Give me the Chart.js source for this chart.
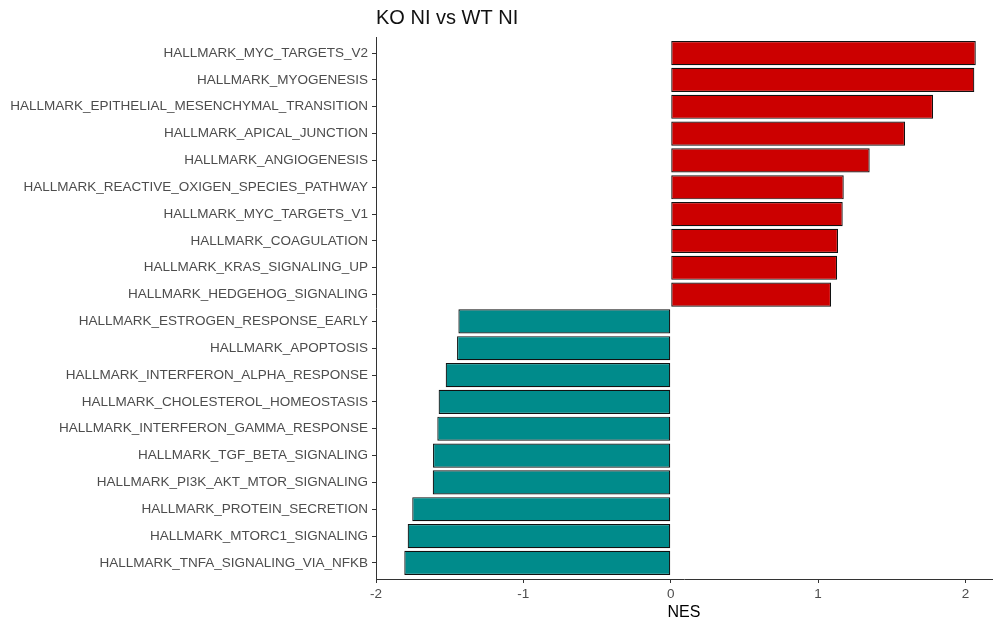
<!DOCTYPE html>
<html>
<head>
<meta charset="utf-8">
<script src="https://cdn.jsdelivr.net/npm/chart.js@4/dist/chart.umd.min.js"></script>
<style>
html,body{margin:0;padding:0;background:#fff;}
#wrap{width:993px;height:622px;position:relative;}
</style>
</head>
<body>
<div id="wrap"><canvas id="c" width="993" height="622"></canvas></div>
<script>
const chartTitle = "KO NI vs WT NI";
const xAxisTitle = "NES";
const categories = [
  "HALLMARK_MYC_TARGETS_V2",
  "HALLMARK_MYOGENESIS",
  "HALLMARK_EPITHELIAL_MESENCHYMAL_TRANSITION",
  "HALLMARK_APICAL_JUNCTION",
  "HALLMARK_ANGIOGENESIS",
  "HALLMARK_REACTIVE_OXIGEN_SPECIES_PATHWAY",
  "HALLMARK_MYC_TARGETS_V1",
  "HALLMARK_COAGULATION",
  "HALLMARK_KRAS_SIGNALING_UP",
  "HALLMARK_HEDGEHOG_SIGNALING",
  "HALLMARK_ESTROGEN_RESPONSE_EARLY",
  "HALLMARK_APOPTOSIS",
  "HALLMARK_INTERFERON_ALPHA_RESPONSE",
  "HALLMARK_CHOLESTEROL_HOMEOSTASIS",
  "HALLMARK_INTERFERON_GAMMA_RESPONSE",
  "HALLMARK_TGF_BETA_SIGNALING",
  "HALLMARK_PI3K_AKT_MTOR_SIGNALING",
  "HALLMARK_PROTEIN_SECRETION",
  "HALLMARK_MTORC1_SIGNALING",
  "HALLMARK_TNFA_SIGNALING_VIA_NFKB"
];
const nesValues = [
  2.07, 2.06, 1.78, 1.59, 1.35, 1.174, 1.167, 1.135, 1.129, 1.088,
  -1.441, -1.450, -1.527, -1.575, -1.584, -1.613, -1.615, -1.754, -1.785, -1.808
];
const xTicks = [-2, -1, 0, 1, 2];
const upColor = "#CC0000";
const downColor = "#008B8B";

const points = categories.map((c, i) => ({ x: nesValues[i], y: i }));

const titlePlugin = {
  id: 'leftTitle',
  afterDraw(chart) {
    const ctx = chart.ctx;
    ctx.save();
    ctx.fillStyle = '#111';
    ctx.font = '20px "Liberation Sans", Arial, sans-serif';
    ctx.textBaseline = 'middle';
    ctx.textAlign = 'left';
    ctx.fillText(chartTitle, chart.chartArea.left, 18);
    ctx.restore();
  }
};

new Chart(document.getElementById('c'), {
  type: 'bar',
  data: {
    datasets: [{
      data: points,
      backgroundColor: nesValues.map(v => v >= 0 ? upColor : downColor),
      borderColor: '#111',
      borderWidth: 1.2,
      borderSkipped: false,
      barPercentage: 0.9,
      categoryPercentage: 1.0
    }]
  },
  options: {
    indexAxis: 'y',
    responsive: false,
    animation: false,
    layout: { padding: { top: 37, right: 1, left: 0, bottom: 0 } },
    plugins: { legend: { display: false }, tooltip: { enabled: false }, title: { display: false } },
    scales: {
      y: {
        type: 'linear',
        reverse: true,
        offset: false,
        min: -0.6,
        max: categories.length - 1 + 0.6,
        afterBuildTicks(scale) { scale.ticks = categories.map((c, i) => ({ value: i })); },
        afterFit(scale) { scale.width = 376; },
        ticks: {
          autoSkip: false,
          callback: (v) => categories[v],
          color: '#4d4d4d',
          font: { family: '"Liberation Sans", Arial, sans-serif', size: 13.5 },
          padding: 4
        },
        grid: { drawOnChartArea: false, offset: false, tickLength: 4, color: '#333', lineWidth: 1 },
        border: { display: true, color: '#333', width: 1 }
      },
      x: {
        type: 'linear',
        min: -2,
        max: 2.18,
        afterBuildTicks(scale) { scale.ticks = xTicks.map(v => ({ value: v })); },
        afterFit(scale) { scale.height = 43; },
        ticks: {
          color: '#4d4d4d',
          font: { family: '"Liberation Sans", Arial, sans-serif', size: 13.5 },
          padding: 3,
          maxRotation: 0
        },
        grid: { drawOnChartArea: false, tickLength: 4, color: '#333', lineWidth: 1 },
        border: { display: true, color: '#333', width: 1 },
        title: {
          display: true,
          text: xAxisTitle,
          color: '#000',
          font: { family: '"Liberation Sans", Arial, sans-serif', size: 16 },
          padding: { top: 0, bottom: 0 }
        }
      }
    }
  },
  plugins: [titlePlugin]
});
</script>
</body>
</html>
